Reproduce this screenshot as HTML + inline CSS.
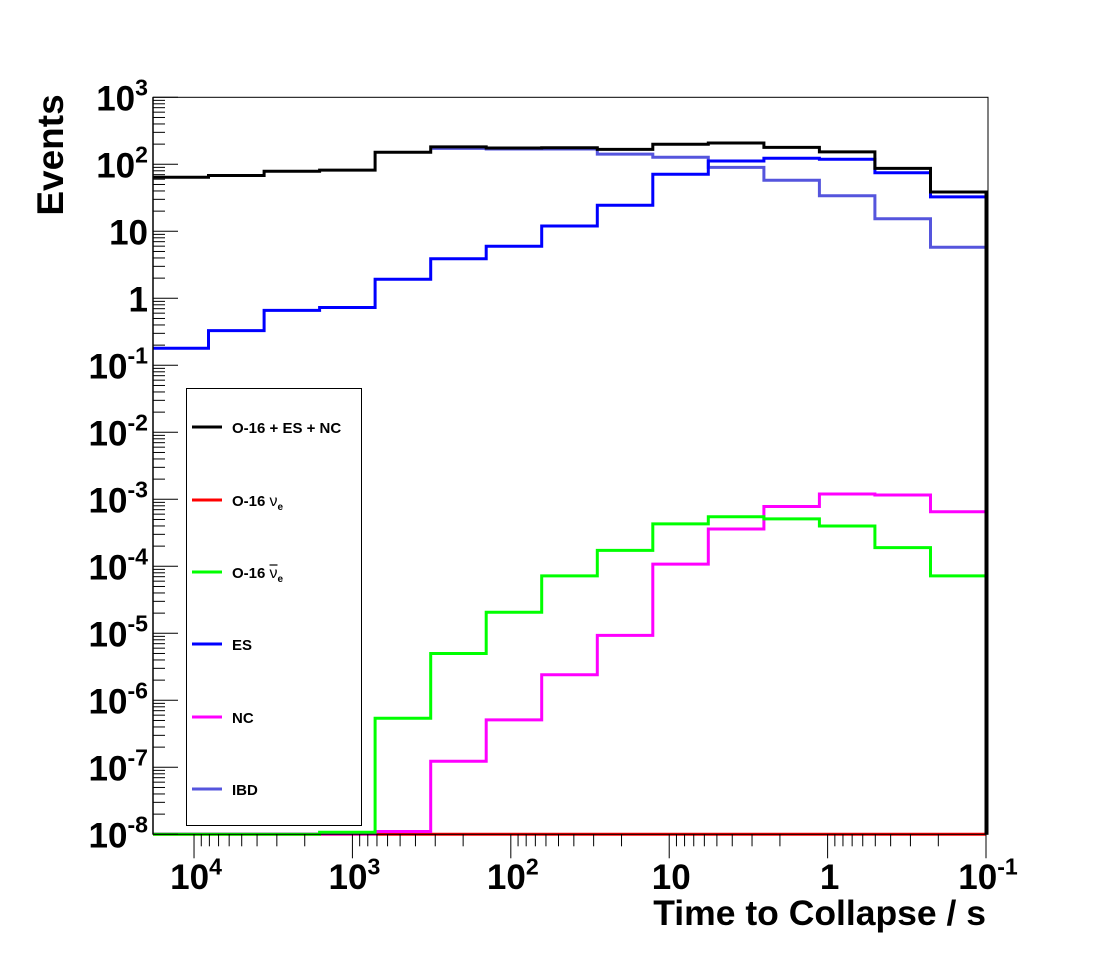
<!DOCTYPE html>
<html><head><meta charset="utf-8"><style>
html,body{margin:0;padding:0;background:#fff;}
svg{display:block;font-family:"Liberation Sans",Arial,sans-serif;font-weight:bold;}
</style></head><body>
<svg id="chart" width="1096" height="972" viewBox="0 0 1096 972">
<rect x="0" y="0" width="1096" height="972" fill="#fff"/>
<g id="plot"></g>
<g id="axes"></g>
<text x="63" y="155" font-size="37" text-anchor="middle" transform="rotate(-90 63 155)">Events</text>
<text x="986" y="925" font-size="35.5" text-anchor="end">Time to Collapse / s</text>
<g id="legend"></g>
</svg>
<script>
// axis ranges (log10)
const xLogRange = [4.259, -1];
const yLogRange = [-8, 3];
const nBins = 15;
const seriesNames = ["O-16 + ES + NC", "O-16 nue", "O-16 nuebar", "ES", "NC", "IBD"];
const seriesColors = ["#000000", "#ff0000", "#00ff00", "#0000ff", "#ff00ff", "#5555dd"];
const totalVals = [64, 68, 79, 82, 151, 182, 175, 177, 167, 199, 208, 179, 153, 87, 38.6];
const nueVals = [1e-8,1e-8,1e-8,1e-8,1e-8,1e-8,1e-8,1e-8,1e-8,1e-8,1e-8,1e-8,1e-8,1e-8,1e-8];
const nuebarVals = [1e-8,1e-8,1e-8,1.07e-8,5.4e-7,5.0e-6,2.06e-5,7.2e-5,1.73e-4,4.3e-4,5.5e-4,5.1e-4,4.0e-4,1.9e-4,7.2e-5];
const esVals = [0.18,0.33,0.66,0.73,1.92,3.9,6.0,12,24.5,71,112,123,119,75,32.6];
const ncVals = [1.01e-8,1.01e-8,1.01e-8,1.01e-8,1.1e-8,1.23e-7,5.1e-7,2.4e-6,9.3e-6,1.08e-4,3.6e-4,7.8e-4,1.2e-3,1.16e-3,6.5e-4];
const ibdVals = [null,null,null,null,null,173,169,169,142,127,90,58,34,15.4,5.8];
const xTickLabels = ["10^4","10^3","10^2","10","1","10^-1"];
const xTickValues = [4,3,2,1,0,-1];
const yTickLabels = ["10^-8","10^-7","10^-6","10^-5","10^-4","10^-3","10^-2","10^-1","1","10","10^2","10^3"];
const yTickValues = [-8,-7,-6,-5,-4,-3,-2,-1,0,1,2,3];

const X0=153, X1=986, Y0=834.3, Y1=97.3;
const NS="http://www.w3.org/2000/svg";
function xPix(lg){return X0+(xLogRange[0]-lg)/(xLogRange[0]-xLogRange[1])*(X1-X0);}
function yPix(v){const lg=Math.log10(v);return Y0-(lg-yLogRange[0])/(yLogRange[1]-yLogRange[0])*(Y0-Y1);}
function binEdge(i){return xLogRange[0]-i*(xLogRange[0]-xLogRange[1])/nBins;}
function mk(tag,attrs,parent){const e=document.createElementNS(NS,tag);for(const k in attrs)e.setAttribute(k,attrs[k]);parent.appendChild(e);return e;}
const plot=document.getElementById('plot'), axes=document.getElementById('axes'), legend=document.getElementById('legend');

function histPath(vals,closeDown){
  let d="";let started=false;
  for(let i=0;i<nBins;i++){
    const v=vals[i]; if(v===null){started=false;continue;}
    const xa=xPix(binEdge(i)),xb=xPix(binEdge(i+1)),y=yPix(v);
    d+=(started?"L":"M")+xa.toFixed(1)+","+y.toFixed(1)+"L"+xb.toFixed(1)+","+y.toFixed(1);
    started=true;
  }
  if(closeDown) d+="L"+X1+","+Y0;
  return d;
}
const allSeries=[nueVals,ncVals,nuebarVals,ibdVals,esVals,totalVals];
const seriesIdx=[1,4,2,5,3,0];
const seriesKeys=["series-o16-nue","series-nc","series-o16-nuebar","series-ibd","series-es","series-total"];
for(let s=0;s<allSeries.length;s++){
  const p=mk('path',{d:histPath(allSeries[s],s===allSeries.length-1),fill:"none",stroke:seriesColors[seriesIdx[s]],"stroke-width":3},plot);
  
  
}

// frame
const fr=mk('rect',{x:X0,y:Y1,width:X1-X0+2,height:Y0-Y1,fill:"none",stroke:"#000","stroke-width":1},axes);


mk('line',{x1:X0,y1:Y1,x2:X0,y2:Y0,stroke:"#000","stroke-width":1.5},axes);

function sciLabel(parent,txt,x,y,anchor,fs,name){
  const t=mk('text',{x:x,y:y,"font-size":fs,"text-anchor":anchor},parent);
  
  
  const parts=txt.split("^");
  const a=mk('tspan',{},t);a.textContent=parts[0];
  if(parts.length>1){const b=mk('tspan',{"font-size":fs*0.66,dy:-fs*0.42},t);b.textContent=parts[1];}
}
// y ticks
for(let k=0;k<yTickValues.length;k++){
  const lg=yTickValues[k];const y=yPix(Math.pow(10,lg));
  mk('line',{x1:X0,y1:y,x2:X0+25,y2:y,stroke:"#000","stroke-width":1},axes);
  if(lg<yLogRange[1]){for(let m=2;m<10;m++){const ym=yPix(m*Math.pow(10,lg));mk('line',{x1:X0,y1:ym,x2:X0+12,y2:ym,stroke:"#000","stroke-width":1},axes);}}
  sciLabel(axes,yTickLabels[k],148,y+13,"end",35,"y-tick-label");
}
// x ticks
for(let k=0;k<xTickValues.length;k++){
  const lg=xTickValues[k];const x=xPix(lg);
  mk('line',{x1:x,y1:Y0,x2:x,y2:Y0+24,stroke:"#000","stroke-width":1},axes);
  sciLabel(axes,xTickLabels[k],x+2,889,"middle",35,"x-tick-label");
}
for(let d=-1;d<=4;d++){for(let m=2;m<10;m++){const lg=d+Math.log10(m);if(lg>xLogRange[0])continue;const x=xPix(lg);mk('line',{x1:x,y1:Y0,x2:x,y2:Y0+12,stroke:"#000","stroke-width":1},axes);}}

// legend
const lb=mk('rect',{x:186.5,y:388.5,width:175,height:437,fill:"#fff",stroke:"#000","stroke-width":1},legend);


const legY=[427,500,572,644,717,789];
const legLabels=["O-16 + ES + NC","O-16 |ν|_e","O-16 |ν|_e","ES","NC","IBD"];
for(let i=0;i<6;i++){
  const g=mk('g',{},legend);
  
  
  mk('line',{x1:192,y1:legY[i],x2:222,y2:legY[i],stroke:seriesColors[i],"stroke-width":3},g);
  const t=mk('text',{x:232,y:legY[i]+6,"font-size":15},g);
  const parts=legLabels[i].split("|");
  const a=mk('tspan',{},t);a.textContent=parts[0];
  if(parts.length>1){
    const nu=mk('tspan',{"font-weight":"normal","font-size":16},t);nu.textContent=parts[1];
    const b=mk('tspan',{"font-size":10,dy:4},t);b.textContent=parts[2].replace("_","");
    if(i===2){
      const w=a.getComputedTextLength(), wn=nu.getComputedTextLength();
      mk('line',{x1:232+w,y1:legY[i]-7,x2:232+w+wn,y2:legY[i]-7,stroke:"#000","stroke-width":1.2},g);
    }
  }
}
</script>
</body></html>
